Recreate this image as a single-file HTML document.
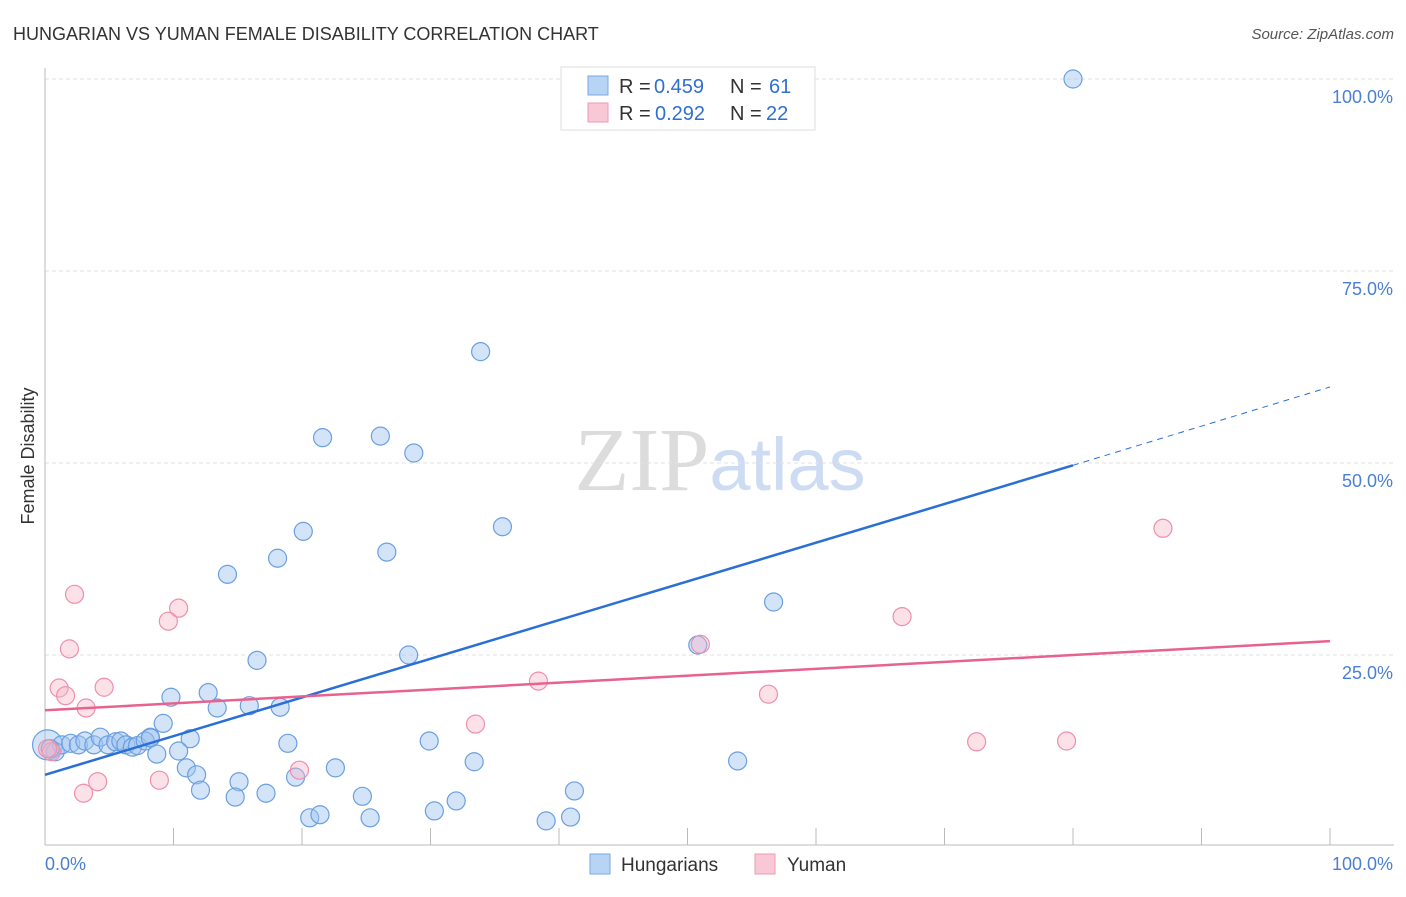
<!DOCTYPE html>
<html><head><meta charset="utf-8"><style>
body{margin:0;background:#fff;font-family:"Liberation Sans",sans-serif;}
</style></head><body>
<svg id="chart" width="1406" height="892" xmlns="http://www.w3.org/2000/svg" style="font-family:'Liberation Sans',sans-serif">
<text x="13" y="40" font-size="18" fill="#333">HUNGARIAN VS YUMAN FEMALE DISABILITY CORRELATION CHART</text>
<text x="1394" y="39" font-size="15" fill="#555" font-style="italic" text-anchor="end">Source: ZipAtlas.com</text>
<text x="720" y="490" font-size="90" text-anchor="middle"><tspan font-family="Liberation Serif" fill="#dcdcdc">ZIP</tspan><tspan fill="#cddcf2" font-size="74">atlas</tspan></text>
<text transform="translate(34,456) rotate(-90)" font-size="18" fill="#333" text-anchor="middle">Female Disability</text>
<g id="grid"></g><g id="ticks"></g><g id="pts"></g><g id="lines"></g>
<g>
<rect x="561" y="67" width="254" height="63" fill="#fff" stroke="#ddd"/>
<rect x="588" y="76" width="20" height="19" fill="#b8d4f5" stroke="#7aa8e0"/>
<rect x="588" y="103" width="20" height="19" fill="#f9c8d6" stroke="#ef9ab3"/>
<text x="619" y="93" font-size="20" fill="#333">R =</text>
<text x="654" y="93" font-size="20" fill="#2f6fd0">0.459</text>
<text x="730" y="93" font-size="20" fill="#333">N =</text>
<text x="769" y="93" font-size="20" fill="#2f6fd0">61</text>
<text x="619" y="120" font-size="20" fill="#333">R =</text>
<text x="655" y="120" font-size="20" fill="#2f6fd0">0.292</text>
<text x="730" y="120" font-size="20" fill="#333">N =</text>
<text x="766" y="120" font-size="20" fill="#2f6fd0">22</text>
</g>
<g>
<rect x="590" y="854" width="20" height="20" fill="#b8d4f5" stroke="#7aa8e0"/>
<text x="621" y="871" font-size="19" fill="#333">Hungarians</text>
<rect x="755" y="854" width="20" height="20" fill="#f9c8d6" stroke="#ef9ab3"/>
<text x="787" y="871" font-size="19" fill="#333">Yuman</text>
</g>
</svg>
<script>
const yTicks=[25,50,75,100];
const yTickLabels=["25.0%","50.0%","75.0%","100.0%"];
const xTicks=[0,10,20,30,40,50,60,70,80,90,100];
const blueX=[80,33.9,21.6,26.1,28.7,20.1,35.6,18.1,26.6,14.2,56.7,16.5,28.3,50.8,9.8,12.7,15.9,18.3,13.4,9.2,8.2,11.3,18.9,29.9,10.4,8.7,11,11.8,15.1,12.1,14.8,17.2,19.5,22.6,33.4,53.9,24.7,30.3,32,20.6,21.4,25.3,41.2,39,40.9,0.2,0.8,1.3,2,2.6,3.1,3.8,4.3,4.9,5.5,5.9,6.3,6.8,7.2,7.8,8.2,0.4];
const blueY=[100,64.5,53.3,53.5,51.3,41.1,41.7,37.6,38.4,35.5,31.9,24.3,25,26.3,19.5,20.1,18.4,18.2,18.1,16.1,14.3,14.1,13.5,13.8,12.5,12.1,10.3,9.4,8.5,7.4,6.5,7,9.1,10.3,11.1,11.2,6.6,4.7,6,3.8,4.2,3.8,7.3,3.4,3.9,13.3,12.4,13.3,13.5,13.3,13.8,13.3,14.3,13.3,13.7,13.8,13.3,13,13.2,13.8,14.2,12.8];
const pinkX=[87,2.3,10.4,9.6,66.7,1.9,51,1.1,4.6,1.6,3.2,38.4,56.3,33.5,19.8,72.5,79.5,4.1,8.9,3,0.5,0.2];
const pinkY=[41.5,32.9,31.1,29.4,30,25.8,26.4,20.7,20.8,19.7,18.1,21.6,19.9,16,10,13.7,13.8,8.5,8.7,7,12.4,12.8];
const blueLine=[9.4,49.7,59.9];
const pinkLine=[17.8,26.8];
const X=v=>45+v*12.85, Y=v=>847-v*7.68;
const NS="http://www.w3.org/2000/svg";
function mk(t,a,p){const e=document.createElementNS(NS,t);for(const k in a)e.setAttribute(k,a[k]);document.getElementById(p).appendChild(e);return e;}
yTicks.forEach((t,i)=>{
 const l=mk('line',{x1:45,x2:1394,y1:Y(t),y2:Y(t),stroke:'#e2e2e2','stroke-dasharray':'4,3'},'grid');
 
 
 const tx=mk('text',{x:1393,y:Y(t)+24,'font-size':18,fill:'#4a7fd4','text-anchor':'end'},'ticks');
 tx.textContent=yTickLabels[i];
 
 
});
const ax=mk('line',{x1:45,x2:1394,y1:845,y2:845,stroke:'#bbb'},'grid');


const ay=mk('line',{x1:45,x2:45,y1:68,y2:845,stroke:'#bbb'},'grid');


xTicks.forEach(t=>{
 const l=mk('line',{x1:X(t),x2:X(t),y1:828,y2:845,stroke:'#bbb'},'ticks');
 
 
});
[[0,"0.0%",'start',45],[100,"100.0%",'end',1393]].forEach(a=>{
 const tx=mk('text',{x:a[3],y:870,'font-size':18,fill:'#4a7fd4','text-anchor':a[2]},'ticks');
 tx.textContent=a[1];
 
 
});
blueX.forEach((v,i)=>{
 const c=mk('circle',{cx:X(v),cy:Y(blueY[i]),r:i==45?15:9,fill:'rgba(160,196,240,0.45)',stroke:'#6a9fe0','stroke-width':1.2},'pts');
 
 
});
pinkX.forEach((v,i)=>{
 const c=mk('circle',{cx:X(v),cy:Y(pinkY[i]),r:9,fill:'rgba(248,180,200,0.4)',stroke:'#ef8fab','stroke-width':1.2},'pts');
 
 
});
const b1=mk('line',{x1:X(0),y1:Y(blueLine[0]),x2:X(80),y2:Y(blueLine[1]),stroke:'#2a6fd6','stroke-width':2.5},'lines');


const b2=mk('line',{x1:X(80),y1:Y(blueLine[1]),x2:X(100),y2:Y(blueLine[2]),stroke:'#2a6fd6','stroke-width':1,'stroke-dasharray':'6,5'},'lines');


const p1=mk('line',{x1:X(0),y1:Y(pinkLine[0]),x2:X(100),y2:Y(pinkLine[1]),stroke:'#e8628f','stroke-width':2.5},'lines');


</script>
</body></html>
